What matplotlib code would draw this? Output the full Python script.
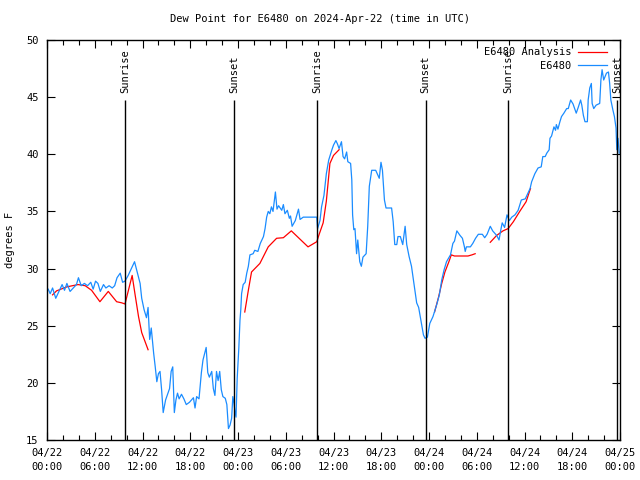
#!/usr/bin/env python3
import numpy as np
import matplotlib
matplotlib.use("Agg")
import matplotlib.pyplot as plt
import matplotlib.dates as mdates

# CONFIG
TITLE = "Dew Point for E6480 on 2024-Apr-22 (time in UTC)"
START = np.datetime64("2024-04-22T00:00")
BLUE = "#1a8cff"
FONT = "DejaVu Sans Mono"

# station obs: hours since 04/22 00:00 UTC, dew point in F
obs_hours = [0.15, 0.4, 0.7, 1.1, 1.5, 1.9, 2.2, 2.5, 2.9, 3.3, 3.7, 3.95, 4.3, 4.7,
             5.1, 5.5, 5.8, 6.1, 6.4, 6.7, 7.1, 7.4, 7.8, 8.2, 8.5, 8.8, 9.2, 9.5,
             9.8, 10.2, 10.6, 11.0, 11.3, 11.7, 11.9, 12.2, 12.5, 12.7, 12.9, 13.1,
             13.4, 13.6, 13.8, 14.0, 14.2, 14.4, 14.6, 14.9, 15.1, 15.4, 15.6, 15.8,
             16.0, 16.2, 16.4, 16.6, 16.9, 17.2, 17.5, 17.9, 18.4, 18.6, 18.8, 19.1,
             19.4, 19.6, 19.85, 20.0, 20.2, 20.4, 20.7, 20.9, 21.1, 21.3, 21.5, 21.7,
             21.9, 22.1, 22.4, 22.6, 22.8, 23.0, 23.2, 23.35, 23.5, 23.6, 23.75, 23.9,
             24.1, 24.25, 24.35, 24.45, 24.65, 24.9, 25.1, 25.3, 25.5, 25.9, 26.1,
             26.5, 26.8, 27.2, 27.4, 27.6, 27.8, 28.0, 28.2, 28.4, 28.6, 28.7, 28.9,
             29.1, 29.5, 29.7, 29.9, 30.2, 30.45, 30.6, 30.8, 31.2, 31.6, 31.8, 32.2,
             33.9, 34.0, 34.3, 34.5, 34.8, 35.1, 35.4, 35.8, 36.0, 36.3, 36.5, 36.7,
             37.0, 37.2, 37.4, 37.65, 37.8, 38.15, 38.3, 38.4, 38.55, 38.7, 38.9,
             39.05, 39.3, 39.5, 39.7, 40.1, 40.3, 40.5, 40.8, 41.3, 41.75, 41.96,
             42.15, 42.4, 42.6, 43.3, 43.5, 43.7, 43.95, 44.1, 44.4, 44.7, 45.0, 45.2,
             45.5, 45.8, 46.1, 46.45, 46.7, 46.9, 47.3, 47.5, 47.8, 48.1, 48.5, 48.95,
             49.3, 49.6, 49.9, 50.2, 50.7, 51.0, 51.2, 51.5, 51.9, 52.2, 52.45, 52.55,
             52.7, 53.2, 53.5, 53.85, 54.2, 54.7, 55.0, 55.3, 55.7, 56.0, 56.5, 56.8,
             57.0, 57.2, 57.5, 57.8, 58.1, 58.4, 58.8, 59.2, 59.6, 60.1, 60.5, 60.7,
             60.9, 61.3, 61.7, 62.1, 62.3, 62.6, 62.8, 63.1, 63.2, 63.4, 63.7, 63.9,
             64.0, 64.2, 64.45, 64.65, 64.95, 65.3, 65.5, 65.8, 66.1, 66.3, 66.5,
             66.75, 67.05, 67.2, 67.4, 67.6, 67.9, 68.0, 68.2, 68.4, 68.5, 68.7, 69.0,
             69.45, 69.6, 69.75, 69.95, 70.3, 70.55, 70.7, 70.85, 71.1, 71.3, 71.5,
             71.6, 71.75, 71.9]
obs_dewpt = [28.2, 27.8, 28.3, 27.4, 28.0, 28.6, 28.1, 28.7, 28.0, 28.3, 28.6, 29.2, 28.5, 28.7,
             28.5, 28.8, 28.2, 28.9, 28.7, 28.0, 28.6, 28.3, 28.5, 28.3, 28.5, 29.2, 29.6, 28.8,
             28.9, 29.4, 30.0, 30.6, 29.8, 28.7, 27.4, 26.4, 25.7, 26.6, 23.8, 24.8,
             22.6, 21.4, 20.1, 20.8, 21.0, 19.4, 17.4, 18.5, 18.9, 19.5, 21.0, 21.4,
             17.4, 18.5, 19.1, 18.6, 19.0, 18.6, 18.1, 18.3, 18.7, 17.8, 18.8, 18.6,
             20.9, 22.0, 22.7, 23.1, 20.9, 20.5, 21.0, 19.5, 18.9, 21.0, 20.2, 21.0,
             19.4, 18.8, 18.65, 18.1, 16.0, 16.3, 16.9, 18.8, 18.2, 17.6, 17.0, 20.4,
             23.0, 25.5, 26.4, 27.8, 28.6, 28.8, 29.6, 30.2, 31.2, 31.3, 31.6,
             31.5, 32.2, 32.8, 33.5, 34.5, 35.0, 34.8, 35.4, 35.0, 36.1, 36.7, 35.2,
             35.5, 35.1, 35.6, 34.8, 35.1, 34.4, 34.6, 33.7, 34.2, 35.2, 34.3, 34.5,
             34.5, 33.5, 34.2, 35.4, 36.4, 38.3, 39.5, 40.4, 40.8, 41.2, 40.9, 40.5,
             41.1, 39.8, 39.6, 40.2, 39.35, 39.2, 37.75, 34.7, 33.4, 33.5, 31.3,
             32.5, 30.6, 30.2, 31.0, 31.3, 33.7, 37.2, 38.6, 38.6, 37.9, 39.3,
             38.6, 36.0, 35.3, 35.3, 34.1, 32.1, 32.1, 32.8, 32.8, 32.1, 33.7, 32.1,
             31.05, 30.2, 28.7, 27.0, 26.6, 25.8, 24.2, 23.9, 24.0, 25.2, 25.8, 26.8,
             27.7, 29.0, 29.9, 30.6, 31.2, 32.2, 32.4, 33.3, 32.9, 32.65, 31.9, 31.5,
             31.9, 31.9, 32.2, 32.65, 33.0, 33.0, 32.7, 33.0, 33.7, 33.3, 32.9, 32.5,
             33.3, 34.0, 33.6, 34.7, 34.2, 34.5, 34.7, 35.1, 36.0, 36.1, 36.7, 37.0,
             37.6, 38.3, 38.8, 38.9, 39.8, 39.8, 40.1, 40.4, 41.4, 41.6, 42.4, 42.1,
             42.6, 42.2, 42.85, 43.3, 43.6, 44.0, 44.0, 44.75, 44.4, 44.0, 43.6,
             44.1, 44.75, 44.3, 43.4, 42.85, 42.85, 44.75, 45.8, 46.2, 44.45, 44.0, 44.3,
             44.45, 46.5, 47.4, 46.5, 47.1, 47.2, 46.2, 44.75, 43.9, 43.3, 42.3,
             40.4, 41.4, 40.1]

# analysis, four separate pieces (gaps between them)
ana_hours = [
    [0.7, 1.2, 2.5, 3.9, 4.8, 5.6, 6.65, 7.7, 8.75, 9.4, 9.8, 10.7, 11.05, 11.5, 11.9, 12.7],
    [24.85, 25.3, 25.7, 26.75, 27.8, 28.85, 29.7, 30.7, 32.8, 33.9, 34.2, 34.7, 35.1, 35.55, 36.0, 36.7],
    [48.7, 49.2, 49.6, 50.0, 50.5, 50.8, 51.2, 52.9, 53.4, 53.8],
    [55.7, 56.5, 57.3, 57.95, 58.6, 59.4, 60.2, 60.75],
]
ana_dewpt = [
    [27.7, 28.05, 28.4, 28.6, 28.5, 28.1, 27.1, 28.0, 27.1, 27.0, 26.9, 29.4, 27.8, 25.8, 24.4, 22.9],
    [26.2, 28.1, 29.7, 30.45, 31.9, 32.65, 32.7, 33.3, 31.9, 32.35, 33.0, 34.0, 35.9, 39.2, 39.9, 40.4],
    [26.2, 27.5, 28.7, 29.7, 30.6, 31.2, 31.1, 31.1, 31.2, 31.3],
    [32.3, 32.9, 33.3, 33.5, 34.1, 35.0, 35.85, 37.0],
]

sun_hours = [9.8, 23.55, 33.97, 47.57, 57.95, 71.65]
sun_labels = ["Sunrise", "Sunset", "Sunrise", "Sunset", "Sunrise", "Sunset"]


def to_time(hours):
    mins = np.round(np.asarray(hours) * 60).astype(int)
    return START + mins.astype("timedelta64[m]")


plt.rcParams["font.family"] = [FONT, "DejaVu Sans"]
plt.rcParams["font.size"] = 7.5

fig = plt.figure(figsize=(6.4, 4.8), dpi=100)
ax = fig.add_axes([47 / 640, 40 / 480, 573 / 640, 400 / 480])

for i, (h, v) in enumerate(zip(ana_hours, ana_dewpt)):
    ax.plot(to_time(h), v, color="red", lw=0.9, label="E6480 Analysis" if i == 0 else None)
ax.plot(to_time(obs_hours), obs_dewpt, color=BLUE, lw=0.9, label="E6480")

# sunrise / sunset markers
for h, lab in zip(sun_hours, sun_labels):
    t = to_time([h])[0]
    ax.vlines(t, 15, 44.75, color="black", lw=1.0)
    ax.text(t, 45.35, lab, rotation=90, ha="center", va="bottom", clip_on=False)

ax.set_xlim(START, START + np.timedelta64(72, "h"))
ax.set_ylim(15, 50)
ax.set_yticks(range(15, 51, 5))
ax.xaxis.set_major_locator(mdates.HourLocator(byhour=[0, 6, 12, 18]))
ax.xaxis.set_minor_locator(mdates.HourLocator(interval=2))
ax.xaxis.set_major_formatter(mdates.DateFormatter("%m/%d\n%H:%M"))
ax.tick_params(which="both", direction="in", top=True, right=True, width=0.8)
ax.tick_params(which="major", length=6, pad=6)
ax.tick_params(which="minor", length=3.5)
for lbl in ax.get_xticklabels():
    lbl.set_linespacing(1.5)
for s in ax.spines.values():
    s.set_linewidth(1.0)

ax.set_ylabel("degrees F", labelpad=8)
fig.text(0.5, 1 - 19 / 480, TITLE, ha="center", va="center", fontsize=7.5)

leg = ax.legend(loc="upper right", bbox_to_anchor=(1 - 9 / 573, 1 - 3 / 400), frameon=False,
                markerfirst=False, handlelength=2.8, borderaxespad=0.0,
                labelspacing=0.35, handletextpad=0.6)

plt.savefig("out.png", dpi=100)
plt.close()
